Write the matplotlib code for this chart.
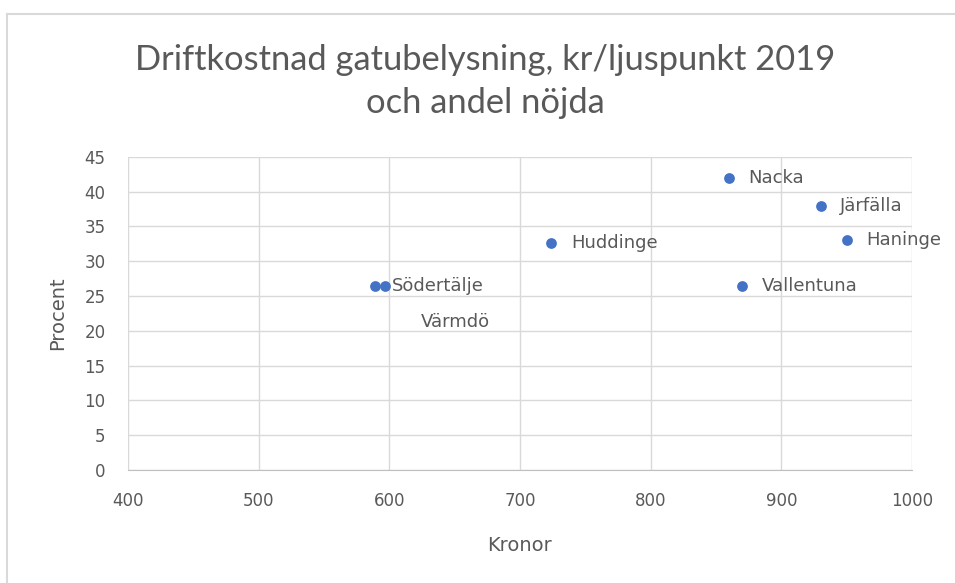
import matplotlib
matplotlib.use("Agg")
import matplotlib.pyplot as plt
from matplotlib.lines import Line2D

# Kommun, kronor per ljuspunkt, andel nöjda (%)
kommuner = ["Nacka", "Järfälla", "Haninge", "Vallentuna", "Huddinge", "Södertälje", "Värmdö"]
kronor = [860, 930, 950, 870, 724, 597, 589]
procent = [42, 38, 33, 26.5, 32.6, 26.5, 26.5]

xticks = [400, 500, 600, 700, 800, 900, 1000]
yticks = [0, 5, 10, 15, 20, 25, 30, 35, 40, 45]

grey = "#595959"
plt.rcParams["font.family"] = ["DejaVu Sans"]

fig = plt.figure(figsize=(9.55, 5.83), dpi=100)
ax = fig.add_axes([0.134, 0.194, 0.821, 0.537])

ax.scatter(kronor, procent, s=60, color="#4472C4", zorder=3, linewidths=0)

for namn, x, y in zip(kommuner, kronor, procent):
    if namn == "Värmdö":
        ax.annotate(namn, (x, y), xytext=(58, -26), textcoords="offset points",
                    ha="center", va="center", fontsize=13, color=grey)
    elif namn == "Södertälje":
        ax.annotate(namn, (x, y), xytext=(5, 0), textcoords="offset points",
                    ha="left", va="center", fontsize=13, color=grey)
    else:
        ax.annotate(namn, (x, y), xytext=(14, 0), textcoords="offset points",
                    ha="left", va="center", fontsize=13, color=grey)

ax.set_xlim(400, 1000)
ax.set_ylim(0, 45)
ax.set_xticks(xticks)
ax.set_yticks(yticks)
ax.grid(True, color="#D9D9D9", linewidth=1)
ax.set_axisbelow(True)
for side in ["top", "right", "left"]:
    ax.spines[side].set_visible(False)
ax.spines["bottom"].set_color("#BFBFBF")
ax.tick_params(length=0, labelsize=12, colors=grey)
ax.tick_params(axis="x", pad=16)
ax.tick_params(axis="y", pad=16)

ax.set_xlabel("Kronor", fontsize=14, color=grey)
ax.set_ylabel("Procent", fontsize=14, color=grey)
ax.xaxis.set_label_coords(0.5, -0.21)
ax.yaxis.set_label_coords(-0.077, 0.5)

fig.text(0.508, 0.860, "Driftkostnad gatubelysning, kr/ljuspunkt 2019\noch andel nöjda",
         ha="center", va="center", fontsize=24.8, color=grey, linespacing=1.4,
         family="Lato")

# ram runt diagrammet
fig.add_artist(Line2D([0.007, 0.007], [0, 0.976], transform=fig.transFigure, color="#D9D9D9", lw=1.5))
fig.add_artist(Line2D([0.007, 1], [0.976, 0.976], transform=fig.transFigure, color="#D9D9D9", lw=1.5))

fig.savefig("out.png", dpi=100)
